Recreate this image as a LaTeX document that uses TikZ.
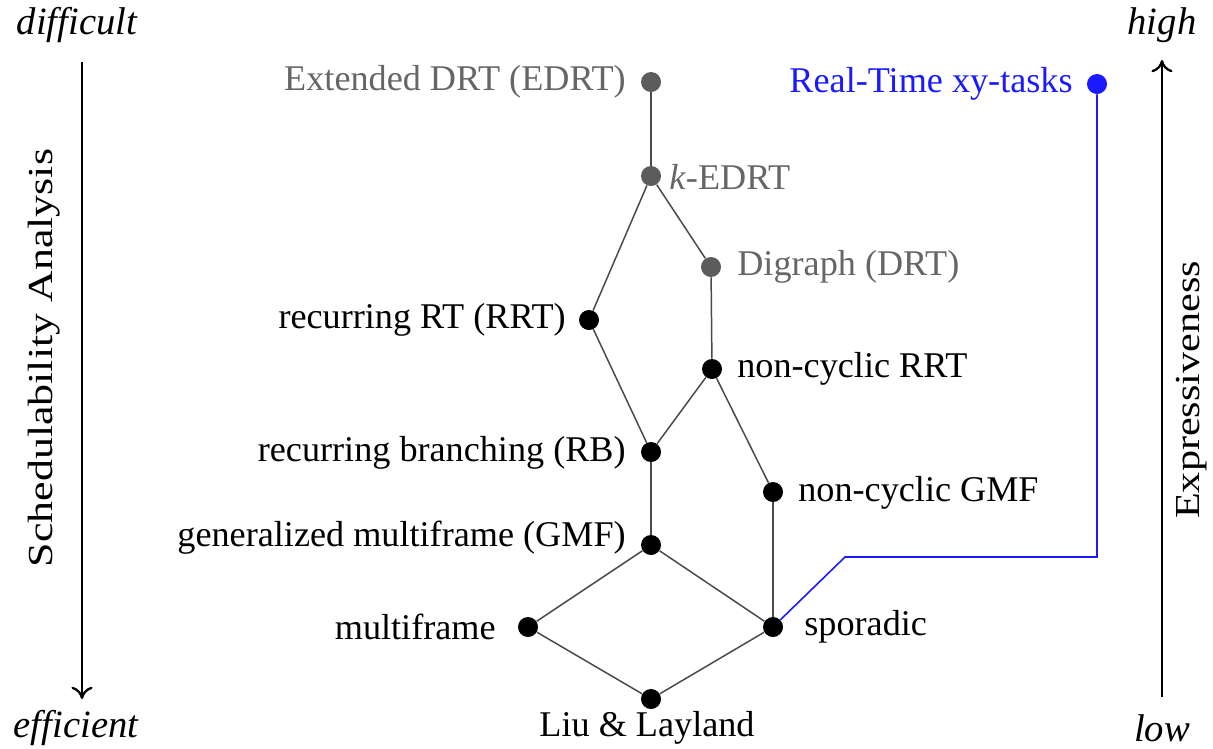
\documentclass[tikz,border=0pt]{standalone}
\usepackage{fontspec}
\setmainfont{Liberation Serif}
\usetikzlibrary{arrows.meta}
\definecolor{gdot}{HTML}{5C5C5C}
\definecolor{gtext}{HTML}{666666}
\definecolor{edgec}{HTML}{4A4A4A}
\definecolor{xyblue}{HTML}{1A1AFF}
\newcommand{\pxu}{*0.02cm}
\tikzset{
  dotb/.style={circle,fill=black,inner sep=0pt,minimum size=20\pxu},
  dotg/.style={circle,fill=gdot,inner sep=0pt,minimum size=20\pxu},
  dotblue/.style={circle,fill=xyblue,inner sep=0pt,minimum size=20\pxu},
  lbl/.style={font=\fontsize{20.6}{24}\selectfont,inner sep=0pt},
  lblg/.style={lbl,text=gtext},
  rot/.style={font=\fontsize{20}{24}\selectfont,inner sep=0pt,rotate=90},
  side/.style={font=\fontsize{22}{26}\selectfont\itshape,inner sep=0pt},
  edge/.style={draw=edgec,line width=0.85pt},
  axis/.style={line width=1.3pt,-{To[length=7pt,width=12pt,line width=1.3pt]}},
}
\begin{document}
\begin{tikzpicture}[x=0.02cm,y=-0.02cm]
\useasboundingbox (0,0) rectangle (1213,748);
% nodes
\node[dotg] (edrt) at (651,82) {};
\node[dotg] (kedrt) at (651,176) {};
\node[dotg] (drt) at (711,267) {};
\node[dotb] (rrt) at (589,320) {};
\node[dotb] (ncrrt) at (712,369) {};
\node[dotb] (rb) at (651,452) {};
\node[dotb] (ncgmf) at (773,492) {};
\node[dotb] (gmf) at (651,545) {};
\node[dotb] (mf) at (528,627) {};
\node[dotb] (spor) at (773,627) {};
\node[dotb] (ll) at (651,699) {};
\node[dotblue] (xy) at (1097,84) {};
% labels
\node[lblg,anchor=east] (tedrt) at (626,82) {Extended DRT (EDRT)};
\node[lblg,anchor=west] (tkedrt) at (669,177) {\textit{k}-EDRT};
\node[lblg,anchor=west] (tdrt) at (737,267) {Digraph (DRT)};
\node[lbl,anchor=east] (trrt) at (566,320) {recurring RT (RRT)};
\node[lbl,anchor=west] (tncrrt) at (737,369) {non-cyclic RRT};
\node[lbl,anchor=east] (trb) at (626,453) {recurring branching (RB)};
\node[lbl,anchor=west] (tncgmf) at (798,493) {non-cyclic GMF};
\node[lbl,anchor=east] (tgmf) at (626,538) {generalized multiframe (GMF)};
\node[lbl,anchor=east] (tmf) at (496,627) {multiframe};
\node[lbl,anchor=west] (tspor) at (804,627) {sporadic};
\node[lbl,anchor=north] (tll) at (647,711) {Liu \& Layland};
\node[lbl,anchor=east,text=xyblue] (txy) at (1073,84) {Real-Time xy-tasks};
% edges
\draw[edge] (edrt) -- (kedrt);
\draw[edge] (kedrt) -- (rrt);
\draw[edge] (kedrt) -- (drt);
\draw[edge] (drt) -- (ncrrt);
\draw[edge] (rrt) -- (rb);
\draw[edge] (ncrrt) -- (rb);
\draw[edge] (ncrrt) -- (ncgmf);
\draw[edge] (rb) -- (gmf);
\draw[edge] (ncgmf) -- (spor);
\draw[edge] (gmf) -- (mf);
\draw[edge] (gmf) -- (spor);
\draw[edge] (mf) -- (ll);
\draw[edge] (spor) -- (ll);
\coordinate (b1) at (845,557);
\coordinate (b2) at (1097,557);
\draw[xyblue,line width=0.9pt] (spor) -- (b1) -- (b2) -- (xy);
% axes
\node[side] (tdiff) at (77,25) {difficult};
\node[side] (teff) at (76,728) {efficient};
\node[side] (thigh) at (1162,25) {high};
\node[side] (tlow) at (1162,728) {low};
\coordinate (la) at (82,62);
\coordinate (lb) at (82,699);
\coordinate (ra) at (1162,697);
\coordinate (rb2) at (1162,60);
\draw[axis] (la) -- (lb);
\draw[axis] (ra) -- (rb2);
\node[rot] (tsa) at (44,358) {\scalebox{1.25}[1]{Schedulability Analysis}};
\node[rot] (texp) at (1192,390) {\scalebox{1.2}[1]{Expressiveness}};
\end{tikzpicture}
\end{document}
